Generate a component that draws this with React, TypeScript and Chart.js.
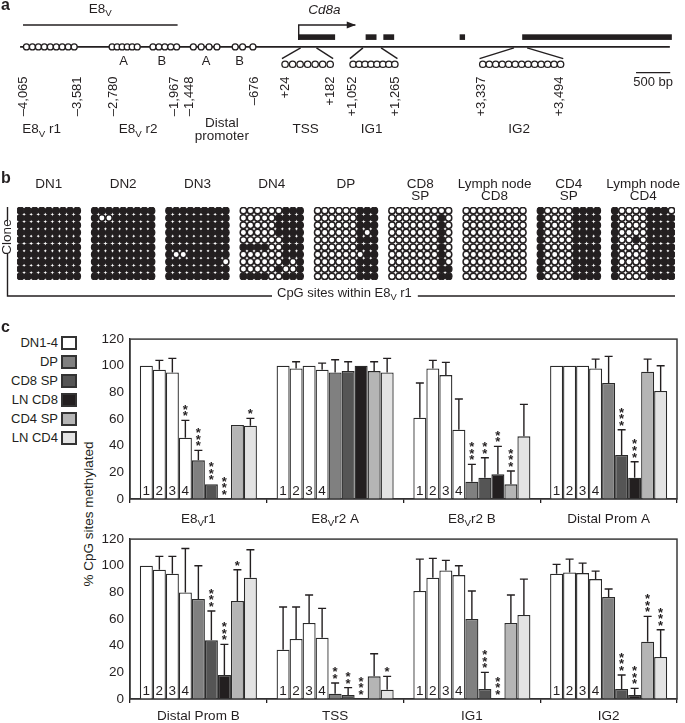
import React, { useEffect, useRef } from 'react';
import { Chart, registerables } from 'chart.js';
Chart.register(...registerables);

const FONT = '"Liberation Sans", Arial, Helvetica, sans-serif';
const INK = '#231f20';

// ================= Panel c data =================
const regionLabels = ['E8_{V}r1', 'E8_{V}r2 A', 'E8_{V}r2 B', 'Distal Prom A', 'Distal Prom B', 'TSS', 'IG1', 'IG2'];
const populations = ['DN1', 'DN2', 'DN3', 'DN4', 'DP', 'CD8 SP', 'LN CD8', 'CD4 SP', 'LN CD4'];
const popColors = ['#ffffff', '#ffffff', '#ffffff', '#ffffff', '#808080', '#555555', '#231f20', '#b5b5b5', '#e3e3e3'];

const dn1Mean = [100, 100, 61, 100, 100, 37, 81, 94];
const dn2Mean = [97, 98, 98, 100, 97, 45, 91, 95];
const dn3Mean = [95, 100, 93, 100, 94, 57, 96.5, 94.5];
const dn4Mean = [46, 97, 52, 98, 80, 46, 93, 90];
const dpMean = [29, 95, 13, 87, 75, 4, 60, 76.5];
const cd8spMean = [11, 96, 16, 33, 44, 3, 7.5, 7.5];
const lnCd8Mean = [0, 100, 18.5, 16, 18, 0, 0, 3];
const cd4spMean = [55.5, 96, 11, 95.5, 73.5, 17, 57, 43];
const lnCd4Mean = [55, 95, 47, 81, 91, 7, 63, 31.5];

const dn1Err = [0, 0, 26, 0, 0, 32, 24, 7];
const dn2Err = [7, 5, 6, 0, 10, 24, 14.5, 10];
const dn3Err = [10.5, 0, 9.5, 0, 13, 21, 7.5, 7.5];
const dn4Err = [13, 5, 23, 7, 33, 22, 7, 6];
const dpErr = [7.5, 9.5, 13, 20, 25, 8, 21, 6];
const cd8spErr = [0, 7, 15, 19, 22, 5.5, 12.5, 10.5];
const lnCd8Err = [0, 0, 21, 12, 23, 0, 0, 5];
const cd4spErr = [0, 7, 10, 9.5, 23.5, 17, 21, 19];
const lnCd4Err = [5.5, 10.5, 24, 19, 21, 10, 27, 20.5];

const dn1Sig = ['', '', '', '', '', '', '', ''];
const dn2Sig = ['', '', '', '', '', '', '', ''];
const dn3Sig = ['', '', '', '', '', '', '', ''];
const dn4Sig = ['**', '', '', '', '', '', '', ''];
const dpSig = ['***', '', '***', '', '', '**', '', ''];
const cd8spSig = ['***', '', '**', '***', '***', '**', '***', '***'];
const lnCd8Sig = ['***', '', '**', '***', '***', '***', '***', '***'];
const cd4spSig = ['', '', '***', '', '*', '', '', '***'];
const lnCd4Sig = ['*', '', '', '', '', '*', '', '***'];

const means = [dn1Mean, dn2Mean, dn3Mean, dn4Mean, dpMean, cd8spMean, lnCd8Mean, cd4spMean, lnCd4Mean];
const errs = [dn1Err, dn2Err, dn3Err, dn4Err, dpErr, cd8spErr, lnCd8Err, cd4spErr, lnCd4Err];
const sigs = [dn1Sig, dn2Sig, dn3Sig, dn4Sig, dpSig, cd8spSig, lnCd8Sig, cd4spSig, lnCd4Sig];

const legendLabels = ['DN1-4', 'DP', 'CD8 SP', 'LN CD8', 'CD4 SP', 'LN CD4'];
const legendColors = ['#ffffff', '#808080', '#555555', '#231f20', '#b5b5b5', '#e3e3e3'];
const yTicks = [0, 20, 40, 60, 80, 100, 120];

// ================= Panel b data (rows = clones, cols = CpG sites; 1 = methylated) =================
const cellTitles = [['DN1'], ['DN2'], ['DN3'], ['DN4'], ['DP'], ['CD8', 'SP'], ['Lymph node', 'CD8'], ['CD4', 'SP'], ['Lymph node', 'CD4']];
const patDN1 = ['111111111', '111111111', '111111111', '111111111', '111111111', '111111111', '111111111', '111111111', '111111111', '111111111'];
const patDN2 = ['111111111', '100111111', '111111111', '111111111', '111111111', '111111111', '111111111', '111111111', '111111111', '111111111'];
const patDN3 = ['111111111', '111111111', '111111111', '111111111', '111111111', '111111111', '100111111', '111111110', '111111111', '111111111'];
const patDN4 = ['000000111', '000001111', '000001111', '000001111', '000000111', '111100111', '000000111', '000000101', '000001001', '111100111'];
const patDP = ['000000111', '000000111', '000000111', '000000101', '000000111', '000000111', '000000011', '000000111', '000000111', '000000111'];
const patCD8SP = ['000000000', '000000010', '000000010', '000000010', '000000010', '000000010', '000000010', '000000010', '000000011', '000000011'];
const patLNCD8 = ['000000000', '000000000', '000000000', '000000000', '000000000', '000000000', '000000000', '000000000', '000000000', '000000000'];
const patCD4SP = ['100001111', '100001111', '100001111', '100001111', '100001111', '100001111', '100001111', '100001111', '100001111', '100001111'];
const patLNCD4 = ['100001110', '100001111', '100001111', '100001111', '100101111', '100001111', '100001111', '100001111', '100001111', '100001111'];
const clonePatterns = [patDN1, patDN2, patDN3, patDN4, patDP, patCD8SP, patLNCD8, patCD4SP, patLNCD4];

// ================= Panel a data (schematic map, bp-like units) =================
const mapRange = [-4288, 5568];
const mainLineSpan = [-4072, 5424];
const e8vSpan = [-4029, -1770];
const lineCpGGroups = [
  { start: -3979, end: -3281, n: 9 },
  { start: -2727, end: -2360, n: 6 },
  { start: -2130, end: -1784, n: 5 },
  { start: -1540, end: -1195, n: 4 },
];
const distBCpG = [-928, -820, -669];
const zoomRegions = [
  { from: [28, 259], to: [-245, 503], cpg: { start: -199, end: 460, n: 7 } },
  { from: [939, 1204], to: [748, 1443], cpg: { start: 795, end: 1405, n: 8 } },
  { from: [3146, 3338], to: [2643, 3866], cpg: { start: 2690, end: 3827, n: 13 } },
];
const exons = [[0, 532], [978, 1137], [1237, 1395], [2352, 2431], [3266, 5453]];
const tssArrowEnd = 834;
const posLabels = [
  { t: '\u20134,065', at: -4029 }, { t: '\u20133,581', at: -3238 }, { t: '\u20132,780', at: -2705 },
  { t: '\u20131,967', at: -1813 }, { t: '\u20131,448', at: -1597 }, { t: '\u2013676', at: -648 },
  { t: '+24', at: -187 }, { t: '+182', at: 460 }, { t: '+1,052', at: 787 }, { t: '+1,265', at: 1420 },
  { t: '+3,337', at: 2676 }, { t: '+3,494', at: 3817 },
];
const regionNames = [
  { lines: ['E8_{V} r1'], at: -3756 }, { lines: ['E8_{V} r2'], at: -2346 },
  { lines: ['Distal', 'promoter'], at: -1123 }, { lines: ['TSS'], at: 100 },
  { lines: ['IG1'], at: 1064 }, { lines: ['IG2'], at: 3223 },
];
const subLabels = [{ t: 'A', at: -2561 }, { t: 'B', at: -1999 }, { t: 'A', at: -1353 }, { t: 'B', at: -864 }];
const scaleBar = [4930, 5430];

// ================= helpers =================
function drawRich(ctx: any, text: string, x: number, y: number, size: number, align = 'center', style = '') {
  const segs: any[] = [];
  const re = /_\{([^}]*)\}/g;
  let last = 0;
  let m: any;
  while ((m = re.exec(text))) {
    if (m.index > last) segs.push({ t: text.slice(last, m.index), sub: false });
    segs.push({ t: m[1], sub: true });
    last = re.lastIndex;
  }
  if (last < text.length) segs.push({ t: text.slice(last), sub: false });
  const subSize = size * 0.72;
  let w = 0;
  segs.forEach((s) => {
    ctx.font = `${style} ${s.sub ? subSize : size}px ${FONT}`;
    s.w = ctx.measureText(s.t).width;
    w += s.w;
  });
  let cx = align === 'center' ? x - w / 2 : align === 'right' ? x - w : x;
  ctx.textAlign = 'left';
  ctx.textBaseline = 'middle';
  ctx.fillStyle = INK;
  segs.forEach((s) => {
    ctx.font = `${style} ${s.sub ? subSize : size}px ${FONT}`;
    ctx.fillText(s.t, cx, s.sub ? y + size * 0.32 : y);
    cx += s.w;
  });
  return w;
}

function spread(g: { start: number; end: number; n: number }) {
  const out: number[] = [];
  for (let i = 0; i < g.n; i++) out.push(g.n === 1 ? g.start : g.start + ((g.end - g.start) * i) / (g.n - 1));
  return out;
}

// ================= Panel a =================
const Y_E8V = 21, Y_EXON_TOP = 31, Y_EXON_BOT = 37, Y_MAIN = 44.5, Y_ZOOM_FROM = 45.5, Y_ZOOM_TO = 57,
  Y_ZOOM_CPG = 63, Y_AB = 60, Y_SCALE = 72, Y_SCALE_TEXT = 82, Y_POS_TOP = 76, Y_REGION = 133;

function PanelA() {
  const ref = useRef<HTMLCanvasElement>(null);
  useEffect(() => {
    const mainCircles: any[] = [];
    lineCpGGroups.forEach((g) => spread(g).forEach((x) => mainCircles.push({ x, y: Y_MAIN })));
    distBCpG.forEach((x) => mainCircles.push({ x, y: Y_MAIN }));
    const zoomCircles: any[] = [];
    zoomRegions.forEach((z) => spread(z.cpg).forEach((x) => zoomCircles.push({ x, y: Y_ZOOM_CPG })));
    const lineDs = (pts: any[], w = 1.5) => ({
      data: pts, showLine: true, borderColor: INK, borderWidth: w, pointRadius: 0, fill: false, tension: 0,
    });
    const datasets: any[] = [
      { data: mainCircles, pointRadius: 3.0, pointBackgroundColor: '#fff', pointBorderColor: INK, pointBorderWidth: 1.3 },
      { data: zoomCircles, pointRadius: 3.2, pointBackgroundColor: '#fff', pointBorderColor: INK, pointBorderWidth: 1.3 },
      lineDs([{ x: mainLineSpan[0], y: Y_MAIN }, { x: mainLineSpan[1], y: Y_MAIN }], 1.7),
      lineDs([{ x: e8vSpan[0], y: Y_E8V }, { x: e8vSpan[1], y: Y_E8V }], 1.4),
      lineDs([{ x: 0, y: Y_EXON_BOT }, { x: 0, y: Y_E8V }, { x: tssArrowEnd - 6, y: Y_E8V }], 1.4),
      lineDs([{ x: scaleBar[0], y: Y_SCALE }, { x: scaleBar[1], y: Y_SCALE }], 1.4),
    ];
    zoomRegions.forEach((z) => {
      datasets.push(lineDs([{ x: z.from[0], y: Y_ZOOM_FROM }, { x: z.to[0], y: Y_ZOOM_TO }], 1.4));
      datasets.push(lineDs([{ x: z.from[1], y: Y_ZOOM_FROM }, { x: z.to[1], y: Y_ZOOM_TO }], 1.4));
    });
    const deco = {
      id: 'decoA',
      afterDraw(chart: any) {
        const { ctx, scales } = chart;
        const X = (v: number) => scales.x.getPixelForValue(v);
        const Y = (v: number) => scales.y.getPixelForValue(v);
        ctx.save();
        ctx.fillStyle = INK;
        exons.forEach(([a, b]) => ctx.fillRect(X(a), Y(Y_EXON_TOP), X(b) - X(a), Y(Y_EXON_BOT) - Y(Y_EXON_TOP)));
        const tx = X(tssArrowEnd), ty = Y(Y_E8V);
        ctx.beginPath();
        ctx.moveTo(tx, ty);
        ctx.lineTo(tx - 9, ty - 3.5);
        ctx.lineTo(tx - 9, ty + 3.5);
        ctx.closePath();
        ctx.fill();
        drawRich(ctx, 'E8_{V}', X((e8vSpan[0] + e8vSpan[1]) / 2), 9, 13.5);
        drawRich(ctx, 'Cd8a', X(374), 10, 13.5, 'center', 'italic');
        subLabels.forEach((s) => drawRich(ctx, s.t, X(s.at), Y(Y_AB), 13));
        drawRich(ctx, '500 bp', X((scaleBar[0] + scaleBar[1]) / 2), Y(Y_SCALE_TEXT), 13);
        posLabels.forEach((p) => {
          ctx.save();
          ctx.translate(X(p.at), Y(Y_POS_TOP));
          ctx.rotate(-Math.PI / 2);
          ctx.font = `13px ${FONT}`;
          ctx.textAlign = 'right';
          ctx.textBaseline = 'middle';
          ctx.fillStyle = INK;
          ctx.fillText(p.t, 0, 0);
          ctx.restore();
        });
        regionNames.forEach((r) => {
          if (r.lines.length === 1) drawRich(ctx, r.lines[0], X(r.at), Y(Y_REGION), 13.5);
          else r.lines.forEach((l, i) => drawRich(ctx, l, X(r.at), Y(Y_REGION) - 6 + i * 12.5, 13.5));
        });
        ctx.restore();
      },
    };
    const chart = new Chart(ref.current as any, {
      type: 'scatter',
      data: { datasets },
      options: {
        animation: false, responsive: false, maintainAspectRatio: false,
        layout: { padding: 0 },
        plugins: { legend: { display: false }, tooltip: { enabled: false } },
        scales: {
          x: { type: 'linear', min: mapRange[0], max: mapRange[1], display: false },
          y: { type: 'linear', min: 0, max: 165, reverse: true, display: false },
        },
      } as any,
      plugins: [deco],
    });
    return () => chart.destroy();
  }, []);
  return <canvas ref={ref} width={685} height={165} style={{ position: 'absolute', left: 0, top: 0, width: 685, height: 165 }} />;
}

// ================= Panel b =================
const BLOCK_STRIDE = 10.5;
function PanelB() {
  const ref = useRef<HTMLCanvasElement>(null);
  useEffect(() => {
    const meth: any[] = [];
    const unmeth: any[] = [];
    clonePatterns.forEach((pat, b) => {
      pat.forEach((row, r) => {
        row.split('').forEach((ch, c) => {
          const p = { x: b * BLOCK_STRIDE + c, y: r };
          (ch === '1' ? meth : unmeth).push(p);
        });
      });
    });
    const nBlocks = clonePatterns.length;
    const deco = {
      id: 'decoB',
      afterDraw(chart: any) {
        const { ctx, chartArea: ca, scales } = chart;
        ctx.save();
        cellTitles.forEach((lines, b) => {
          const cx = scales.x.getPixelForValue(b * BLOCK_STRIDE + 4);
          lines.forEach((l, i) => drawRich(ctx, l, cx, ca.top - 23 + i * 12, 13.5));
        });
        ctx.save();
        ctx.translate(ca.left - 10, ca.top + 30);
        ctx.rotate(-Math.PI / 2);
        ctx.font = `13.5px ${FONT}`;
        ctx.textAlign = 'center';
        ctx.textBaseline = 'middle';
        ctx.fillStyle = INK;
        ctx.fillText('Clone', 0, 0);
        ctx.restore();
        const lx = ca.left - 9.5;
        const by = ca.bottom + 16;
        ctx.strokeStyle = INK;
        ctx.lineWidth = 1.4;
        ctx.beginPath();
        ctx.moveTo(lx, ca.top);
        ctx.lineTo(lx, ca.top + 13);
        ctx.moveTo(lx, ca.top + 47);
        ctx.lineTo(lx, by);
        ctx.lineTo(272, by);
        ctx.stroke();
        const w = drawRich(ctx, 'CpG sites within E8_{V} r1', 277, by - 3, 13, 'left');
        ctx.beginPath();
        ctx.moveTo(277 + w + 6, by);
        ctx.lineTo(ca.right, by);
        ctx.stroke();
        ctx.restore();
      },
    };
    const chart = new Chart(ref.current as any, {
      type: 'scatter',
      data: {
        datasets: [
          { data: meth, pointRadius: 3.4, pointBackgroundColor: INK, pointBorderColor: INK, pointBorderWidth: 1.2 },
          { data: unmeth, pointRadius: 3.2, pointBackgroundColor: '#fff', pointBorderColor: INK, pointBorderWidth: 1.5 },
        ],
      },
      options: {
        animation: false, responsive: false, maintainAspectRatio: false,
        layout: { padding: { left: 17, right: 10, top: 37, bottom: 25 } },
        plugins: { legend: { display: false }, tooltip: { enabled: false } },
        scales: {
          x: { type: 'linear', min: -0.5, max: (nBlocks - 1) * BLOCK_STRIDE + 8.5, display: false },
          y: { type: 'linear', min: -0.5, max: 9.5, reverse: true, display: false },
        },
      } as any,
      plugins: [deco],
    });
    return () => chart.destroy();
  }, []);
  return <canvas ref={ref} width={685} height={135} style={{ position: 'absolute', left: 0, top: 170, width: 685, height: 135 }} />;
}

// ================= Panel c =================
function BarPanel({ start, top, height, xAxisH, labelGap }: any) {
  const ref = useRef<HTMLCanvasElement>(null);
  useEffect(() => {
    const idx = [start, start + 1, start + 2, start + 3];
    const labels = idx.map((i) => regionLabels[i]);
    const datasets = populations.map((p, di) => ({
      label: p,
      data: idx.map((i) => means[di][i]),
      backgroundColor: popColors[di],
      borderColor: '#2a2a2a',
      borderWidth: 1.3,
      categoryPercentage: 0.856,
      barPercentage: 1,
    }));
    const extras = {
      id: 'extras',
      afterDatasetsDraw(chart: any) {
        const { ctx, chartArea: ca, scales } = chart;
        const y = scales.y;
        ctx.save();
        chart.data.datasets.forEach((ds: any, di: number) => {
          const meta = chart.getDatasetMeta(di);
          meta.data.forEach((bar: any, k: number) => {
            const gi = idx[k];
            const v = means[di][gi];
            const e = errs[di][gi];
            const xc = bar.x;
            const yv = y.getPixelForValue(v);
            const ye = y.getPixelForValue(v + e);
            ctx.strokeStyle = INK;
            ctx.lineWidth = 1.4;
            if (e > 0) {
              ctx.beginPath();
              ctx.moveTo(xc, yv);
              ctx.lineTo(xc, ye);
              ctx.moveTo(xc - 4, ye);
              ctx.lineTo(xc + 4, ye);
              ctx.stroke();
            }
            const s = sigs[di][gi];
            if (s) {
              ctx.font = `bold 13px ${FONT}`;
              ctx.textAlign = 'center';
              ctx.textBaseline = 'alphabetic';
              ctx.fillStyle = INK;
              const mm = ctx.measureText('*');
              const off = (mm.actualBoundingBoxAscent - mm.actualBoundingBoxDescent) / 2;
              const baseY = e > 0 ? ye : yv;
              for (let i = 0; i < s.length; i++) {
                const cy = baseY - 6.5 - i * 6.6;
                ctx.fillText('*', xc, cy + off);
              }
            }
            if (di < 4) {
              ctx.font = `13.5px ${FONT}`;
              ctx.textAlign = 'center';
              ctx.textBaseline = 'middle';
              ctx.fillStyle = INK;
              ctx.fillText(String(di + 1), xc, ca.bottom - 8);
            }
          });
        });
        ctx.strokeStyle = '#3a3a3a';
        ctx.lineWidth = 1.5;
        ctx.strokeRect(ca.left, ca.top, ca.right - ca.left, ca.bottom - ca.top);
        labels.forEach((l, k) => drawRich(ctx, l, scales.x.getPixelForValue(k), ca.bottom + labelGap, 13.5));
        ctx.restore();
      },
    };
    const chart = new Chart(ref.current as any, {
      type: 'bar',
      data: { labels, datasets },
      options: {
        animation: false, responsive: false, maintainAspectRatio: false,
        layout: { padding: { top: 12, right: 8, left: 0, bottom: 0 } },
        plugins: { legend: { display: false }, tooltip: { enabled: false } },
        scales: {
          x: {
            type: 'category', offset: true,
            grid: { display: true, drawOnChartArea: false, drawTicks: true, tickLength: 4, color: INK, lineWidth: 1.3, offset: true },
            border: { display: true, color: INK, width: 1.3 },
            ticks: { display: false },
            afterFit: (s: any) => { s.height = xAxisH; },
          },
          y: {
            min: 0, max: 120,
            afterBuildTicks: (s: any) => { s.ticks = yTicks.map((v) => ({ value: v })); },
            ticks: { font: { family: FONT, size: 13.5 }, color: INK, padding: 6 },
            grid: { display: false, drawTicks: false },
            border: { display: true, color: INK, width: 1.3 },
            afterFit: (s: any) => { s.width = 40; },
          },
        },
      } as any,
      plugins: [extras],
    });
    return () => chart.destroy();
  }, []);
  return <canvas ref={ref} width={595} height={height} style={{ position: 'absolute', left: 90, top, width: 595, height }} />;
}

function Legend() {
  return (
    <>
      {legendLabels.map((l, i) => (
        <div key={l}>
          <div style={{ position: 'absolute', left: 0, width: 58, top: 336 + i * 19, height: 14, lineHeight: '14px', textAlign: 'right', fontSize: 13, fontFamily: FONT, color: INK, whiteSpace: 'nowrap' }}>{l}</div>
          <div style={{ position: 'absolute', left: 61, top: 336 + i * 19, width: 16, height: 14, boxSizing: 'border-box', border: '2px solid #333', background: legendColors[i] }} />
        </div>
      ))}
    </>
  );
}

export default function App() {
  return (
    <div style={{ position: 'absolute', left: 0, top: 0, width: 685, height: 723, background: '#fff', overflow: 'hidden', fontFamily: FONT, color: INK }}>
      <PanelA />
      <PanelB />
      <Legend />
      <div style={{ position: 'absolute', left: 88, top: 514, transform: 'translate(-50%, -50%) rotate(-90deg)', whiteSpace: 'nowrap', fontSize: 13.5, fontFamily: FONT, color: INK }}>% CpG sites methylated</div>
      <BarPanel start={0} top={325} height={205} xAxisH={31} labelGap={20} />
      <BarPanel start={4} top={525} height={198} xAxisH={24} labelGap={17} />
      <div style={{ position: 'absolute', left: 1, top: -4, fontWeight: 'bold', fontSize: 16, fontFamily: FONT }}>a</div>
      <div style={{ position: 'absolute', left: 1, top: 169, fontWeight: 'bold', fontSize: 16, fontFamily: FONT }}>b</div>
      <div style={{ position: 'absolute', left: 1, top: 318, fontWeight: 'bold', fontSize: 16, fontFamily: FONT }}>c</div>
    </div>
  );
}
